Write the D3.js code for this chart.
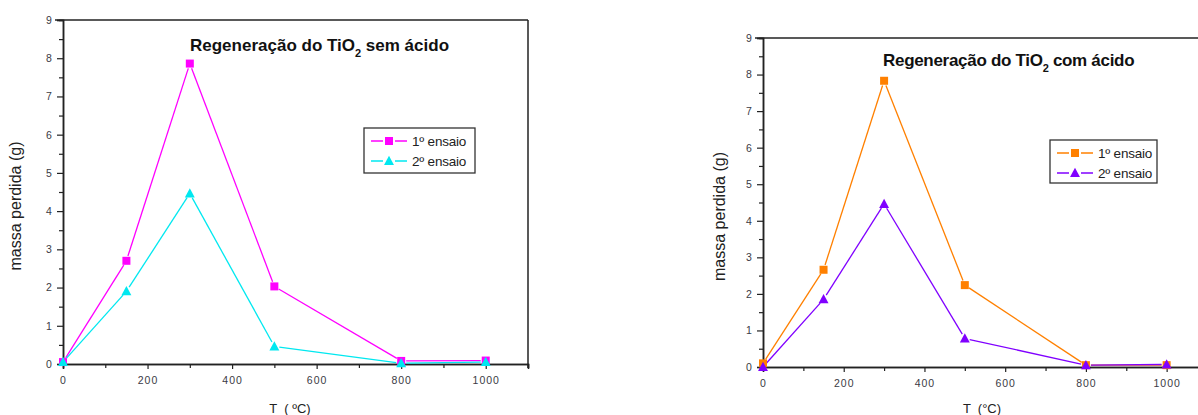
<!DOCTYPE html>
<html>
<head>
<meta charset="utf-8">
<script src="https://cdn.jsdelivr.net/npm/d3@7"></script>
<style>
  html, body { margin: 0; padding: 0; background: #fff; }
  svg { display: block; }
  text { font-family: "Liberation Sans", Arial, sans-serif; }
</style>
</head>
<body>
<svg id="chart" width="1198" height="415"></svg>
<script>
// Temperatures (°C) at which the mass loss was measured
const temperatures = [0, 150, 300, 500, 800, 1000];

// Mass lost (g) – regeneration without acid
const semAcido1 = [0.05, 2.70, 7.86, 2.03, 0.08, 0.09];
const semAcido2 = [0.05, 1.90, 4.46, 0.46, 0.02, 0.05];

// Mass lost (g) – regeneration with acid
const comAcido1 = [0.10, 2.66, 7.83, 2.24, 0.05, 0.05];
const comAcido2 = [0.00, 1.85, 4.46, 0.78, 0.05, 0.07];

const xTicks = [0, 200, 400, 600, 800, 1000];
const yTicks = [0, 1, 2, 3, 4, 5, 6, 7, 8, 9];
const seriesNames = ["1º ensaio", "2º ensaio"];
const titlesMain = ["Regeneração do TiO", "Regeneração do TiO"];
const titlesTail = [" sem ácido", " com ácido"];
const xLabels = ["T  ( ºC)", "T  (°C)"];

const svg = d3.select("#chart");

const panels = [
  {
    left: 63, right: 528, top: 20, bottom: 364,
    series: [
      { values: semAcido1, color: "#ff00ff", shape: "square" },
      { values: semAcido2, color: "#00e8f0", shape: "triangle" }
    ],
    titleX: 190, titleY: 51, titleIdx: 0, titleSpacing: 0,
    legend: { x: 364, y: 128, w: 111, h: 45 },
    yLabelX: 21, xLabelX: 290, xLabelY: 413
  },
  {
    left: 763, right: 1207, top: 38, bottom: 367,
    series: [
      { values: comAcido1, color: "#ff8000", shape: "square" },
      { values: comAcido2, color: "#8000ff", shape: "triangle" }
    ],
    titleX: 883, titleY: 66, titleIdx: 1, titleSpacing: -0.3,
    legend: { x: 1050, y: 140, w: 107, h: 43 },
    yLabelX: 725, xLabelX: 982, xLabelY: 413
  }
];

function drawMarker(g, shape, color, cx, cy, size) {
  if (shape === "square") {
    g.append("rect")
      .attr("x", cx - size / 2).attr("y", cy - size / 2)
      .attr("width", size).attr("height", size)
      .attr("fill", color);
  } else {
    const h = size * 1.1;
    g.append("path")
      .attr("d", `M${cx},${cy - h * 0.6} L${cx + size * 0.62},${cy + h * 0.45} L${cx - size * 0.62},${cy + h * 0.45} Z`)
      .attr("fill", color);
  }
}

panels.forEach(p => {
  const x = d3.scaleLinear().domain([0, 1100]).range([p.left, p.right]);
  const y = d3.scaleLinear().domain([0, 9]).range([p.bottom, p.top]);
  const g = svg.append("g");

  // frame: top and right edges
  g.append("line").attr("x1", p.left - 8).attr("x2", p.right).attr("y1", p.top).attr("y2", p.top)
    .attr("stroke", "#222").attr("stroke-width", 1.5);
  g.append("line").attr("x1", p.right).attr("x2", p.right).attr("y1", p.top).attr("y2", p.bottom + 4)
    .attr("stroke", "#222").attr("stroke-width", 1.5);

  // x axis with major and minor ticks
  const xAxis = d3.axisBottom(x).tickValues(xTicks).tickSize(5).tickFormat(d3.format("d"));
  const xg = g.append("g").attr("transform", `translate(0,${p.bottom})`).call(xAxis);
  const xMinor = d3.axisBottom(x).tickValues([100, 300, 500, 700, 900, 1100]).tickSize(4).tickFormat("");
  g.append("g").attr("transform", `translate(0,${p.bottom})`).call(xMinor);

  // y axis with major and minor ticks
  const yAxis = d3.axisLeft(y).tickValues(yTicks).tickSize(6).tickFormat(d3.format("d"));
  const yg = g.append("g").attr("transform", `translate(${p.left},0)`).call(yAxis);
  const yMinor = d3.axisLeft(y).tickValues(d3.range(0.5, 9, 1)).tickSize(4).tickFormat("");
  g.append("g").attr("transform", `translate(${p.left},0)`).call(yMinor);

  g.selectAll(".domain").attr("stroke", "#222").attr("stroke-width", 1.5);
  g.selectAll(".tick line").attr("stroke", "#222").attr("stroke-width", 1.2);
  xg.selectAll(".tick text").attr("font-size", 10.5).attr("fill", "#3a3a44").attr("dy", "1.1em")
    .attr("letter-spacing", 1);
  yg.selectAll(".tick text").attr("font-size", 10.5).attr("fill", "#3a3a44").attr("dx", "-0.2em");

  // series: segments with a small gap around each marker, then markers
  const gap = 5;
  p.series.forEach(s => {
    const pts = temperatures.map((t, i) => [x(t), y(s.values[i])]);
    for (let i = 0; i < pts.length - 1; i++) {
      const [x1, y1] = pts[i], [x2, y2] = pts[i + 1];
      const len = Math.hypot(x2 - x1, y2 - y1);
      if (len <= 2 * gap) continue;
      const ux = (x2 - x1) / len, uy = (y2 - y1) / len;
      g.append("line")
        .attr("x1", x1 + ux * gap).attr("y1", y1 + uy * gap)
        .attr("x2", x2 - ux * gap).attr("y2", y2 - uy * gap)
        .attr("stroke", s.color).attr("stroke-width", 1.3);
    }
  });
  p.series.forEach(s => {
    temperatures.forEach((t, i) => {
      drawMarker(g, s.shape, s.color, x(t), y(s.values[i]), 8);
    });
  });

  // title with subscript
  const title = g.append("text")
    .attr("x", p.titleX).attr("y", p.titleY)
    .attr("font-size", 17).attr("font-weight", "bold")
    .attr("letter-spacing", p.titleSpacing).attr("fill", "#111");
  title.append("tspan").text(titlesMain[p.titleIdx]);
  title.append("tspan").attr("font-size", 11).attr("dy", 6).text("2");
  title.append("tspan").attr("dy", -6).text(titlesTail[p.titleIdx]);

  // legend
  const L = p.legend;
  const lg = g.append("g");
  lg.append("rect").attr("x", L.x).attr("y", L.y).attr("width", L.w).attr("height", L.h)
    .attr("fill", "#fff").attr("stroke", "#333").attr("stroke-width", 1.3);
  p.series.forEach((s, i) => {
    const ry = L.y + 13 + i * 20;
    lg.append("line").attr("x1", L.x + 7).attr("x2", L.x + 43).attr("y1", ry).attr("y2", ry)
      .attr("stroke", s.color).attr("stroke-width", 1.3);
    lg.append("rect").attr("x", L.x + 19).attr("y", ry - 6).attr("width", 12).attr("height", 12).attr("fill", "#fff");
    drawMarker(lg, s.shape, s.color, L.x + 25, ry, 8);
    lg.append("text").attr("x", L.x + 48).attr("y", ry + 4.5)
      .attr("font-size", 13.5).attr("letter-spacing", -0.2).attr("fill", "#222").text(seriesNames[i]);
  });

  // axis labels
  g.append("text")
    .attr("transform", `translate(${p.yLabelX},${(p.top + p.bottom) / 2 + 14}) rotate(-90)`)
    .attr("text-anchor", "middle").attr("font-size", 16).attr("fill", "#222")
    .text("massa perdida (g)");
  g.append("text")
    .attr("x", p.xLabelX).attr("y", p.xLabelY)
    .attr("text-anchor", "middle").attr("font-size", 13).attr("fill", "#222")
    .attr("xml:space", "preserve")
    .text(xLabels[p.titleIdx]);
});
</script>
</body>
</html>
